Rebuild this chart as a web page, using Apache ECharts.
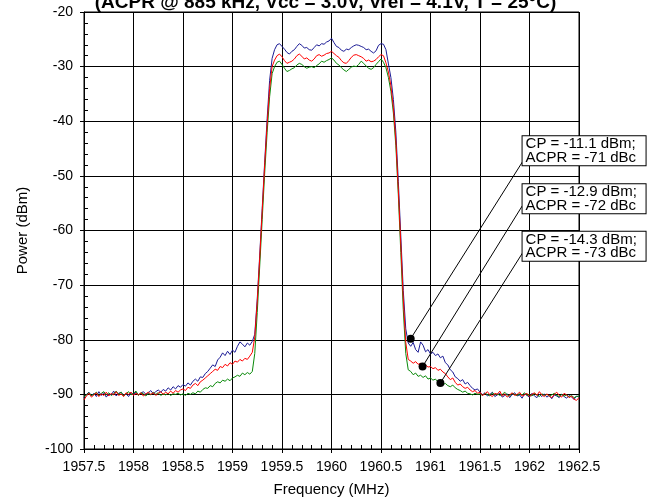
<!DOCTYPE html>
<html><head><meta charset="utf-8">
<script src="https://cdn.jsdelivr.net/npm/echarts@6/dist/echarts.min.js"></script>
<style>html,body{margin:0;padding:0;background:#fff}#c{width:651px;height:504px}</style>
</head><body><div id="c"></div>
<script>
const TITLE = '(ACPR @ 885 kHz, Vcc = 3.0V, Vref = 4.1V, T = 25°C)';
const X_NAME = 'Frequency (MHz)';
const Y_NAME = 'Power (dBm)';
// sampled spectrum: start frequency and sample spacing (MHz)
const FREQ_START = 1957.5, FREQ_STEP = 0.025;

const blue = [
-90.6,-90.0,-89.6,-90.3,-89.8,-90.4,-89.5,-90.2,-89.7,-90.5,
-89.9,-90.1,-89.4,-90.3,-89.8,-89.6,-90.2,-89.9,-90.4,-89.7,
-90.0,-89.6,-90.1,-89.8,-89.5,-90.0,-89.7,-89.3,-89.9,-89.5,
-89.2,-89.6,-89.1,-89.4,-88.8,-89.2,-88.6,-89.0,-88.4,-88.7,
-88.2,-88.5,-87.9,-88.3,-87.6,-87.2,-87.6,-86.8,-86.9,-86.2,
-85.8,-85.2,-84.6,-84.9,-83.7,-83.2,-82.4,-82.9,-82.1,-82.7,
-81.9,-82.3,-81.2,-80.4,-80.8,-81.3,-80.6,-81.0,-80.3,-79.0,
-72.5,-64.5,-56.0,-47.5,-39.5,-32.5,-28.5,-26.9,-26.0,-25.8,
-26.3,-26.8,-27.4,-27.7,-27.2,-26.9,-26.3,-25.8,-26.1,-26.6,
-26.5,-26.9,-27.0,-26.5,-26.0,-26.2,-25.8,-25.9,-25.5,-25.3,
-24.8,-25.6,-26.3,-26.5,-27.0,-27.2,-26.8,-26.9,-26.5,-26.2,
-26.0,-26.1,-26.3,-26.5,-26.9,-26.8,-27.2,-27.5,-27.1,-26.1,
-25.8,-25.9,-26.9,-29.5,-32.0,-36.0,-42.0,-51.0,-61.0,-71.0,
-78.0,-80.6,-81.2,-80.5,-81.8,-82.3,-80.4,-81.0,-82.2,-81.8,
-82.6,-82.3,-82.9,-82.6,-83.3,-83.0,-84.2,-84.6,-85.5,-85.9,
-86.8,-87.1,-87.6,-87.3,-88.1,-87.8,-88.4,-88.9,-89.2,-89.0,
-89.6,-90.1,-89.7,-90.3,-90.0,-89.6,-90.4,-90.1,-89.8,-90.5,
-90.2,-89.9,-90.6,-90.0,-89.7,-90.3,-90.1,-90.7,-89.9,-90.2,
-90.5,-89.8,-90.3,-90.6,-90.0,-90.4,-89.9,-90.5,-90.2,-90.8,
-90.1,-90.3,-90.6,-90.0,-90.4,-90.7,-90.2,-90.5,-90.9,-90.3,
-90.5
];
const red = [
-91.0,-90.3,-89.8,-90.5,-90.1,-89.7,-90.4,-89.9,-90.2,-89.6,
-90.3,-89.8,-90.1,-89.5,-90.2,-89.9,-90.4,-89.7,-90.0,-89.6,
-90.2,-89.8,-90.1,-89.7,-90.3,-89.9,-89.6,-90.0,-89.7,-90.2,
-89.8,-89.5,-90.0,-89.6,-89.9,-89.4,-89.8,-89.3,-89.6,-89.2,
-89.0,-89.3,-88.7,-88.9,-88.3,-88.0,-88.4,-87.7,-87.4,-87.0,
-86.6,-86.2,-85.8,-85.4,-85.6,-84.9,-85.1,-84.5,-84.8,-84.2,
-84.5,-83.9,-84.1,-83.6,-83.9,-83.4,-83.6,-83.0,-82.3,-79.5,
-73.0,-65.0,-56.5,-48.0,-40.5,-34.0,-30.0,-28.8,-28.0,-27.7,
-28.2,-28.9,-29.4,-29.2,-29.0,-28.6,-28.0,-27.7,-28.1,-28.6,
-28.4,-28.8,-29.0,-28.6,-28.0,-27.8,-28.1,-27.9,-27.6,-27.5,
-27.2,-27.6,-28.0,-28.3,-28.9,-29.3,-29.4,-28.9,-28.3,-27.9,
-27.8,-28.0,-28.2,-28.5,-29.0,-28.8,-29.1,-29.0,-28.7,-28.2,
-27.8,-28.0,-29.3,-31.0,-33.5,-37.5,-43.5,-52.5,-62.5,-72.5,
-80.5,-83.6,-83.9,-84.3,-84.0,-84.5,-84.3,-84.8,-84.6,-85.0,
-84.9,-85.3,-85.1,-85.6,-85.4,-85.9,-86.2,-86.8,-87.3,-87.0,
-87.8,-88.3,-88.1,-88.6,-88.9,-88.7,-89.2,-89.5,-89.3,-89.8,
-89.6,-90.2,-89.9,-89.5,-90.1,-90.4,-89.8,-90.0,-89.4,-90.3,
-89.9,-90.5,-90.1,-89.7,-90.2,-90.0,-89.6,-90.3,-90.1,-89.8,
-90.4,-90.0,-89.7,-90.2,-89.5,-90.1,-90.4,-89.9,-90.3,-90.6,
-90.0,-89.6,-90.2,-90.5,-89.8,-90.1,-90.6,-90.3,-90.9,-91.1,
-90.6
];
const green = [
-90.4,-90.1,-89.7,-90.2,-90.0,-89.6,-90.3,-89.8,-89.5,-90.1,
-89.7,-90.2,-89.9,-89.4,-90.0,-89.6,-90.3,-89.9,-89.5,-90.1,
-89.8,-89.4,-90.2,-89.7,-89.9,-90.3,-89.8,-90.1,-89.6,-90.0,
-89.7,-90.2,-89.9,-90.1,-89.8,-90.2,-89.9,-90.0,-89.8,-90.1,
-89.9,-90.2,-89.8,-90.0,-89.7,-89.9,-89.4,-89.6,-89.1,-88.8,
-88.9,-88.4,-88.6,-88.0,-87.7,-87.9,-87.4,-87.6,-87.2,-87.5,
-87.0,-86.8,-86.5,-86.7,-86.1,-86.4,-86.0,-86.3,-85.8,-82.5,
-75.0,-66.5,-58.0,-49.5,-42.0,-35.5,-31.3,-30.0,-29.2,-29.0,
-29.6,-30.3,-30.9,-30.7,-30.4,-30.2,-29.7,-29.4,-29.6,-30.0,
-30.3,-30.1,-30.0,-30.2,-29.8,-29.5,-29.0,-29.2,-28.9,-28.7,
-28.4,-28.8,-29.4,-29.7,-30.2,-30.6,-30.9,-30.5,-30.1,-29.9,
-30.0,-29.6,-29.0,-29.4,-29.9,-30.3,-30.5,-30.2,-29.6,-29.1,
-28.6,-29.2,-30.2,-32.0,-34.5,-38.5,-44.5,-53.5,-64.0,-74.5,
-82.5,-85.5,-85.8,-86.4,-86.1,-86.7,-86.5,-86.9,-86.6,-87.2,
-87.0,-87.4,-87.2,-87.7,-87.8,-88.2,-88.0,-88.4,-88.6,-88.3,
-88.8,-89.1,-89.3,-89.6,-89.4,-89.8,-89.9,-90.1,-89.8,-90.0,
-89.9,-90.2,-89.8,-90.0,-90.3,-89.7,-90.1,-89.9,-90.2,-90.0,
-89.6,-90.1,-90.3,-89.8,-90.0,-90.2,-89.9,-90.1,-89.7,-90.2,
-90.0,-90.3,-89.8,-90.1,-90.4,-89.9,-90.2,-90.0,-90.3,-90.1,
-89.8,-90.2,-90.4,-90.0,-90.3,-90.1,-90.5,-90.2,-90.6,-90.4,
-90.3
];

// annotation points on the traces, and the box anchor points (data coords)
const markerPts = [[1960.80, -79.8], [1960.92, -84.9], [1961.10, -87.9]];
const leaderEnds = [[1961.93, -47.4], [1961.93, -55.4], [1961.93, -64.1]];
const boxPts = [[1961.93, -45.4], [1961.93, -54.2], [1961.93, -62.9]];
const boxTexts = [
  'CP = -11.1 dBm;\nACPR = -71 dBc',
  'CP = -12.9 dBm;\nACPR = -72 dBc',
  'CP = -14.3 dBm;\nACPR = -73 dBc'
];

const FONT = 'Arial, "Liberation Sans", sans-serif';
const freq = blue.map((_, i) => +(FREQ_START + i * FREQ_STEP).toFixed(3));
const pairs = arr => arr.map((v, i) => [freq[i], v]);

const markPointData = markerPts.map(p => ({
  coord: p, symbol: 'circle', symbolSize: 8,
  itemStyle: {color: '#000'}, label: {show: false}
})).concat(boxPts.map((p, i) => ({
  coord: p, symbol: 'circle', symbolSize: 0,
  label: {
    show: true, position: 'right', distance: 0,
    formatter: boxTexts[i], color: '#000', fontFamily: FONT, fontSize: 15,
    lineHeight: 13.5, width: 117, padding: [1, 3, 1, 3],
    backgroundColor: '#fff', borderColor: '#000', borderWidth: 1, align: 'left'
  }
})));
const markLineData = markerPts.map((p, i) => [{coord: p}, {coord: leaderEnds[i]}]);

const chart = echarts.init(document.getElementById('c'), null, {renderer: 'canvas'});
chart.setOption({
  animation: false,
  backgroundColor: '#fff',
  title: {
    text: TITLE, left: 'center', top: -12,
    textStyle: {fontFamily: FONT, fontSize: 19, fontWeight: 'bold', color: '#000'}
  },
  grid: {left: 84, right: 72, top: 12, bottom: 55, show: true, borderColor: '#000', borderWidth: 1, backgroundColor: '#fff'},
  xAxis: {
    type: 'value', min: 1957.5, max: 1962.5, interval: 0.5,
    name: X_NAME, nameLocation: 'middle', nameGap: 33,
    nameTextStyle: {fontFamily: FONT, fontSize: 15, color: '#000'},
    axisLine: {lineStyle: {color: '#000', width: 1}},
    axisTick: {show: true, inside: false, length: 4, lineStyle: {color: '#000'}},
    minorTick: {show: true, splitNumber: 5, length: -4, lineStyle: {color: '#000'}},
    axisLabel: {fontFamily: FONT, fontSize: 14, color: '#000', margin: 11,
      formatter: v => String(+v.toFixed(1))},
    splitLine: {show: true, lineStyle: {color: '#000', width: 1}}
  },
  yAxis: {
    type: 'value', min: -100, max: -20, interval: 10,
    name: Y_NAME, nameLocation: 'middle', nameGap: 54,
    nameTextStyle: {fontFamily: FONT, fontSize: 15, color: '#000'},
    axisLine: {show: true, lineStyle: {color: '#000', width: 1}},
    axisTick: {show: true, inside: false, length: 4, lineStyle: {color: '#000'}},
    minorTick: {show: true, splitNumber: 5, length: -4, lineStyle: {color: '#000'}},
    axisLabel: {fontFamily: FONT, fontSize: 14, color: '#000', margin: 11},
    splitLine: {show: true, lineStyle: {color: '#000', width: 1}}
  },
  series: [
    {type: 'line', data: pairs(blue), showSymbol: false, lineStyle: {color: '#1c1c96', width: 1}, itemStyle: {color: '#1c1c96'}},
    {type: 'line', data: pairs(green), showSymbol: false, lineStyle: {color: '#0a8a0a', width: 1}, itemStyle: {color: '#0a8a0a'}},
    {type: 'line', data: pairs(red), showSymbol: false, lineStyle: {color: '#ff0000', width: 1}, itemStyle: {color: '#ff0000'},
      markLine: {silent: true, symbol: ['none', 'none'], label: {show: false},
        lineStyle: {color: '#000', width: 1, type: 'solid'}, data: markLineData},
      markPoint: {silent: true, data: markPointData}
    }
  ]
});
</script></body></html>
